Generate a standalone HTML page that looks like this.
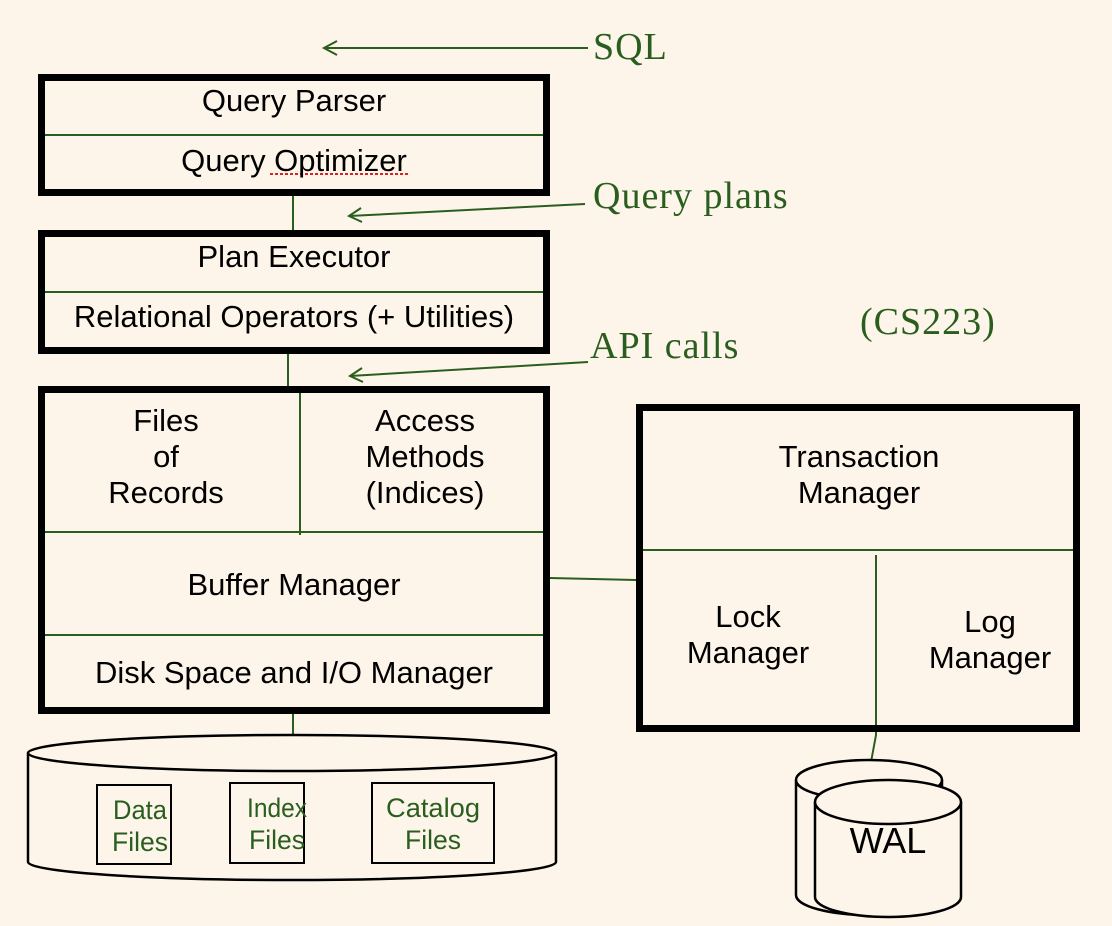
<!DOCTYPE html>
<html><head><style>html,body{margin:0;padding:0;background:#fdf5ea}</style></head><body>
<svg width="1112" height="926" viewBox="0 0 1112 926" xmlns="http://www.w3.org/2000/svg" style="display:block">
<rect width="1112" height="926" fill="#fdf5ea"/>
<g fill="none" stroke="#2a5e1e" stroke-width="2">
<line x1="293" y1="196" x2="293" y2="230"/>
<line x1="288" y1="354" x2="288" y2="386"/>
<line x1="293" y1="714" x2="293" y2="736"/>
<line x1="38" y1="135" x2="550" y2="135"/>
<line x1="38" y1="292" x2="550" y2="292"/>
<line x1="38" y1="532" x2="550" y2="532"/>
<line x1="38" y1="635" x2="550" y2="635"/>
<line x1="300" y1="390" x2="300" y2="535"/>
<line x1="550" y1="578" x2="636" y2="580"/>
<line x1="636" y1="550" x2="1080" y2="550"/>
<polyline points="876,555 876,735 871,762"/>
<line x1="588" y1="48" x2="324" y2="48"/>
<polyline points="337,41 324,48 337,55"/>
<line x1="585" y1="204" x2="349" y2="216"/>
<polyline points="361,208 349,216 362,222"/>
<line x1="588" y1="362" x2="350" y2="376"/>
<polyline points="362,368 350,376 363,382"/>
</g>
<g fill="none" stroke="#000" stroke-width="7">
<rect x="41.5" y="77.5" width="505" height="115"/>
<rect x="41.5" y="233.5" width="505" height="117"/>
<rect x="41.5" y="389.5" width="505" height="321"/>
<rect x="639.5" y="407.5" width="437" height="321"/>
</g>
<g stroke="#000" stroke-width="2.5" fill="#fdf5ea">
<path d="M28,753 L28,862 A264,18 0 0 0 556,862 L556,753"/>
<ellipse cx="292" cy="753" rx="264" ry="18"/>
<path d="M796,780 L796,895 A73,20 0 0 0 942,895 L942,780"/>
<ellipse cx="869" cy="780" rx="73" ry="20"/>
<path d="M815,802 L815,897 A73,20 0 0 0 961,897 L961,802"/>
<ellipse cx="888" cy="802" rx="73" ry="22"/>
</g>
<g fill="none" stroke="#000" stroke-width="2">
<rect x="97" y="785" width="74" height="79"/>
<rect x="230" y="783" width="74" height="80"/>
<rect x="372" y="783" width="122" height="80"/>
</g>
<line x1="270" y1="174" x2="408" y2="174" stroke="#e02020" stroke-width="2" stroke-dasharray="3,2"/>
<g font-family="Liberation Sans, sans-serif" font-size="31" fill="#000" text-anchor="middle">
<text x="294" y="111">Query Parser</text>
<text x="294" y="171">Query Optimizer</text>
<text x="294" y="267">Plan Executor</text>
<text x="294" y="327">Relational Operators (+ Utilities)</text>
<text x="166" y="431">Files</text>
<text x="166" y="467">of</text>
<text x="166" y="503">Records</text>
<text x="425" y="431">Access</text>
<text x="425" y="467">Methods</text>
<text x="425" y="503">(Indices)</text>
<text x="294" y="595">Buffer Manager</text>
<text x="294" y="683">Disk Space and I/O Manager</text>
<text x="859" y="467">Transaction</text>
<text x="859" y="503">Manager</text>
<text x="748" y="627">Lock</text>
<text x="748" y="663">Manager</text>
<text x="990" y="632">Log</text>
<text x="990" y="668">Manager</text>
<text x="888" y="853" font-size="36">WAL</text>
</g>
<g font-family="Liberation Sans, sans-serif" font-size="27" fill="#2a5e1e" text-anchor="middle" lengthAdjust="spacingAndGlyphs">
<text x="140" y="819" textLength="54" lengthAdjust="spacingAndGlyphs">Data</text>
<text x="140" y="851" textLength="56" lengthAdjust="spacingAndGlyphs">Files</text>
<text x="277" y="817" textLength="60" lengthAdjust="spacingAndGlyphs">Index</text>
<text x="277" y="849" textLength="56" lengthAdjust="spacingAndGlyphs">Files</text>
<text x="433" y="817" textLength="94" lengthAdjust="spacingAndGlyphs">Catalog</text>
<text x="433" y="849" textLength="56" lengthAdjust="spacingAndGlyphs">Files</text>
</g>
<g font-family="Liberation Serif, serif" font-size="38" fill="#2a5e1e" letter-spacing="1">
<text x="593" y="59">SQL</text>
<text x="593" y="208">Query plans</text>
<text x="590" y="358">API calls</text>
<text x="860" y="334">(CS223)</text>
</g>
</svg>
</body></html>
